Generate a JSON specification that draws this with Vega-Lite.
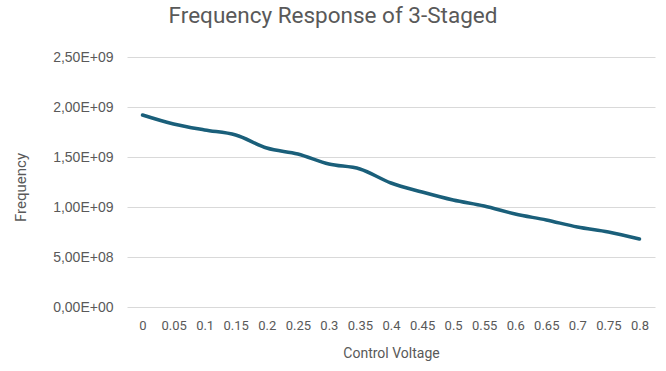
{
  "$schema": "https://vega.github.io/schema/vega-lite/v6.json",
  "autosize": "none",
  "width": 528,
  "height": 250,
  "padding": {"left": 127, "top": 57, "right": 11, "bottom": 64},
  "background": "white",
  "title": {
    "text": "Frequency Response of 3-Staged",
    "anchor": "middle",
    "dx": -58,
    "offset": 23,
    "font": "Roboto",
    "fontSize": 22.5,
    "fontWeight": "normal",
    "color": "#595959"
  },
  "config": {
    "view": {"stroke": null}
  },
  "data": {
    "values": [
      {"v": "0", "f": 1.92e9},
      {"v": "0.05", "f": 1.83e9},
      {"v": "0.1", "f": 1.77e9},
      {"v": "0.15", "f": 1.72e9},
      {"v": "0.2", "f": 1.59e9},
      {"v": "0.25", "f": 1.53e9},
      {"v": "0.3", "f": 1.43e9},
      {"v": "0.35", "f": 1.38e9},
      {"v": "0.4", "f": 1.24e9},
      {"v": "0.45", "f": 1.15e9},
      {"v": "0.5", "f": 1.07e9},
      {"v": "0.55", "f": 1.01e9},
      {"v": "0.6", "f": 0.93e9},
      {"v": "0.65", "f": 0.87e9},
      {"v": "0.7", "f": 0.80e9},
      {"v": "0.75", "f": 0.75e9},
      {"v": "0.8", "f": 0.68e9}
    ]
  },
  "mark": {"type": "line", "color": "#1a5f7a", "strokeWidth": 3.5, "interpolate": "monotone", "strokeCap": "round"},
  "encoding": {
    "x": {
      "field": "v", "type": "ordinal", "sort": null,
      "scale": {"paddingInner": 0, "paddingOuter": 0},
      "axis": {"title": "Control Voltage", "labelAngle": 0, "ticks": false, "domain": false, "labelPadding": 12, "titlePadding": 14, "labelOverlap": false,
        "labelFont": "Roboto", "labelFontSize": 13, "labelColor": "#595959",
        "titleFont": "Roboto", "titleFontSize": 14, "titleFontWeight": "normal", "titleColor": "#595959"}
    },
    "y": {
      "field": "f", "type": "quantitative",
      "scale": {"domain": [0, 2500000000], "nice": false},
      "axis": {
        "title": "Frequency", "values": [0, 500000000, 1000000000, 1500000000, 2000000000, 2500000000],
        "labelExpr": "replace(replace(upper(format(datum.value, '.2e')), '.', ','), 'E+', 'E+0')",
        "ticks": false, "domain": false, "labelPadding": 14,
        "labelFont": "Liberation Sans", "labelFontSize": 14, "labelColor": "#595959",
        "titleFont": "Roboto", "titleFontWeight": "normal", "titleColor": "#595959",
        "titleX": -107, "titleY": 130, "titleAngle": -90, "titleBaseline": "middle", "titleAlign": "center", "titleFontSize": 15,
        "gridColor": "#d9d9d9", "gridWidth": 1
      }
    }
  }
}
